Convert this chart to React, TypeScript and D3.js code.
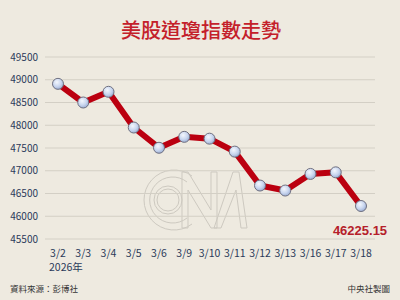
import React from "react";
import * as d3 from "d3";

const categories = ["3/2", "3/3", "3/4", "3/5", "3/6", "3/9", "3/10", "3/11", "3/12", "3/13", "3/16", "3/17", "3/18"];
const values = [48910, 48500, 48735, 47950, 47505, 47745, 47705, 47420, 46675, 46565, 46930, 46965, 46225.15];
const yTicks = [45500, 46000, 46500, 47000, 47500, 48000, 48500, 49000, 49500];
const title = "美股道瓊指數走勢";
const lastLabel = "46225.15";
const yearLabel = "2026年";
const sourceLabel = "資料來源：彭博社";
const creditLabel = "中央社製圖";

const W = 400;
const H = 300;

export default function App() {
  const x = d3.scalePoint<string>().domain(categories).range([58, 361]);
  const y = d3.scaleLinear().domain([45500, 49500]).range([239, 57]);
  const line = d3
    .line<number>()
    .x((_, i) => x(categories[i]) as number)
    .y((d) => y(d));
  const font = "'Noto Sans CJK TC', 'Noto Sans', sans-serif";
  const wm = "#cdc9c0";
  const lastX = x(categories[categories.length - 1]) as number;

  return (
    <svg
      width={W}
      height={H}
      style={{ position: "absolute", left: 0, top: 0, display: "block" }}
    >
      <defs>
        <radialGradient id="mk" cx="40%" cy="35%" r="65%">
          <stop offset="0%" stopColor="#f4f7fd" />
          <stop offset="60%" stopColor="#c9d6ef" />
          <stop offset="100%" stopColor="#9fb1d6" />
        </radialGradient>
      </defs>
      <rect x={0} y={0} width={W} height={H} fill="#eeeae0" />
      <text
        x={201}
        y={38}
        textAnchor="middle"
        fontFamily={font}
        fontSize={20}
        fontWeight={500}
        fill="#c4202a"
      >
        {title}
      </text>

      {/* watermark */}
      <g fill="none" stroke={wm} strokeWidth={1}>
        <path d="M 192 176 A 30 30 0 1 0 192 224" />
        <path d="M 187 182 A 23 23 0 1 0 187 218" />
        <circle cx={168} cy={200} r={14} />
        <circle cx={168} cy={200} r={11} />
        <path d="M 182 172 L 182 228 L 188 228 L 188 190 L 211 228 L 217 228 L 217 172 L 211 172 L 211 210 L 188 172 Z" />
        <path d="M 214 228 L 233 172 L 239 172 L 247 228 L 241 228 L 236 190 L 221 228 Z" />
      </g>

      {yTicks.map((t) => (
        <g key={t}>
          <line x1={45} x2={375} y1={y(t)} y2={y(t)} stroke="#d3cfc5" strokeWidth={1.2} />
          <text
            x={38}
            y={y(t) + 3.5}
            textAnchor="end"
            fontFamily={font}
            fontSize={10}
            fill="#2b3a5a"
          >
            {t}
          </text>
        </g>
      ))}

      {categories.map((c) => (
        <text
          key={c}
          x={x(c) as number}
          y={257}
          textAnchor="middle"
          fontFamily={font}
          fontSize={10.5}
          fill="#2b3a5a"
        >
          {c}
        </text>
      ))}
      <text x={49} y={271} fontFamily={font} fontSize={10.5} fill="#2b3a5a">
        {yearLabel}
      </text>

      <path
        d={line(values) || ""}
        fill="none"
        stroke="#bb0010"
        strokeWidth={6}
        strokeLinejoin="round"
        strokeLinecap="round"
      />
      {values.map((v, i) => (
        <circle
          key={i}
          cx={x(categories[i]) as number}
          cy={y(v)}
          r={5.5}
          fill="url(#mk)"
          stroke="#6f7080"
          strokeWidth={1}
        />
      ))}

      <text
        x={lastX - 1}
        y={235}
        textAnchor="middle"
        fontFamily="'Liberation Sans', Arial, sans-serif"
        fontSize={13}
        fontWeight="bold"
        fill="#b5202a"
      >
        {lastLabel}
      </text>

      <text x={10} y={292} fontFamily={font} fontSize={8.5} fill="#333">
        {sourceLabel}
      </text>
      <text x={390} y={292} textAnchor="end" fontFamily={font} fontSize={8.5} fill="#333">
        {creditLabel}
      </text>
    </svg>
  );
}
